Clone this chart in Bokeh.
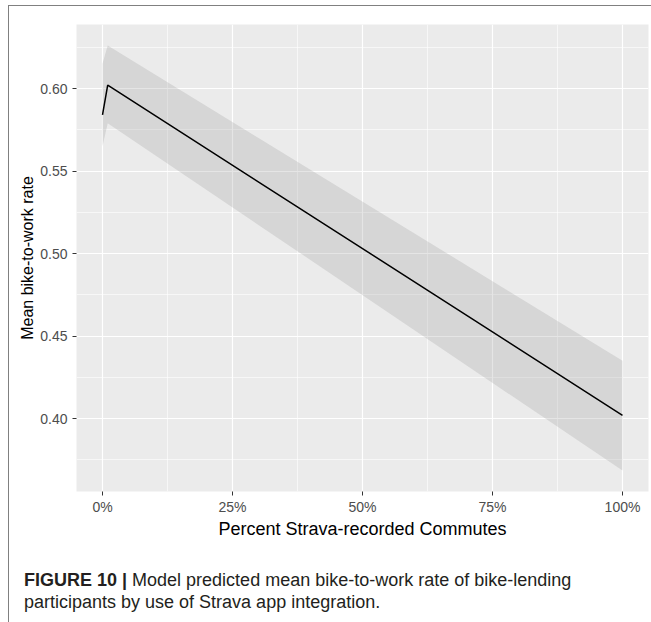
from bokeh.plotting import figure
from bokeh.layouts import column
from bokeh.models import FixedTicker, CustomJSTickFormatter, ColumnDataSource, Range1d, Div
from bokeh.embed import file_html
from bokeh.resources import INLINE

# Model predictions over the share of Strava-recorded commutes
strava_share = [0.0, 0.01, 1.0]
predicted_rate = [0.584, 0.602, 0.402]
ci_lower = [0.565, 0.579, 0.3685]
ci_upper = [0.615, 0.626, 0.435]

x_ticks = [0.0, 0.25, 0.5, 0.75, 1.0]
x_minor = [0.125, 0.375, 0.625, 0.875]
y_ticks = [0.40, 0.45, 0.50, 0.55, 0.60]
y_minor = [0.375, 0.425, 0.475, 0.525, 0.575, 0.625]

caption_bold = "FIGURE 10 |"
caption_line1 = "Model predicted mean bike-to-work rate of bike-lending"
caption_line2 = "participants by use of Strava app integration."

FONT = "Liberation Sans"

# Block geometry (the block is framed on its top and left edges)
BLOCK_W, FIG_H, CAP_H = 642, 539, 77
LEFT, TOP, FW, FH = 67, 18, 572, 467

p = figure(width=BLOCK_W, height=FIG_H, output_backend="svg", toolbar_location=None,
           x_range=Range1d(-0.05, 1.05), y_range=Range1d(0.3558, 0.6388),
           min_border_left=LEFT, min_border_right=BLOCK_W - LEFT - FW,
           min_border_top=TOP, min_border_bottom=FIG_H - TOP - FH)
p.background_fill_color = "#ebebeb"
p.border_fill_color = "white"
p.outline_line_color = None

src = ColumnDataSource(dict(x=strava_share, y=predicted_rate, lo=ci_lower, hi=ci_upper))
p.varea(x="x", y1="lo", y2="hi", source=src, fill_color="#999999", fill_alpha=0.25)
p.line(x="x", y="y", source=src, line_color="black", line_width=1.5)

p.xaxis.ticker = FixedTicker(ticks=x_ticks, minor_ticks=x_minor)
p.yaxis.ticker = FixedTicker(ticks=y_ticks, minor_ticks=y_minor)
p.xaxis.formatter = CustomJSTickFormatter(code="return Math.round(tick*100) + '%';")
p.yaxis.formatter = CustomJSTickFormatter(code="return tick.toFixed(2);")

for ax in (p.xaxis, p.yaxis):
    ax.axis_line_color = None
    ax.major_tick_line_color = "#333333"
    ax.major_tick_line_width = 1
    ax.major_tick_out = 4
    ax.major_tick_in = 0
    ax.minor_tick_line_color = None
    ax.major_label_text_font = FONT
    ax.major_label_text_font_size = "14px"
    ax.major_label_text_color = "#4d4d4d"
    ax.axis_label_text_font = FONT
    ax.axis_label_text_font_style = "normal"
    ax.axis_label_text_color = "black"

p.xaxis.major_label_standoff = 3
p.yaxis.major_label_standoff = 5
p.xaxis.axis_label = "Percent Strava-recorded Commutes"
p.xaxis.axis_label_text_font_size = "18px"
p.xaxis.axis_label_standoff = 1
p.yaxis.axis_label = "Mean bike-to-work rate"
p.yaxis.axis_label_text_font_size = "16px"
p.yaxis.axis_label_standoff = 1

p.grid.grid_line_color = "white"
p.grid.grid_line_width = 1.2
p.grid.minor_grid_line_color = "white"
p.grid.minor_grid_line_width = 0.6

cap = Div(
    text=(f'<div style="font-family:\'{FONT}\';font-size:18px;line-height:22px;'
          f'color:#231f20;padding:24px 0 0 15px;white-space:nowrap;">'
          f'<b>{caption_bold}</b> {caption_line1}<br>{caption_line2}</div>'),
    width=BLOCK_W, height=CAP_H, margin=(0, 0, 0, 0))

layout = column(p, cap, spacing=0, margin=(5, 0, 0, 8),
                styles={"border-top": "1px solid #808080",
                        "border-left": "1px solid #808080",
                        "background": "white"})

open("out.html", "w").write(file_html(layout, INLINE))
